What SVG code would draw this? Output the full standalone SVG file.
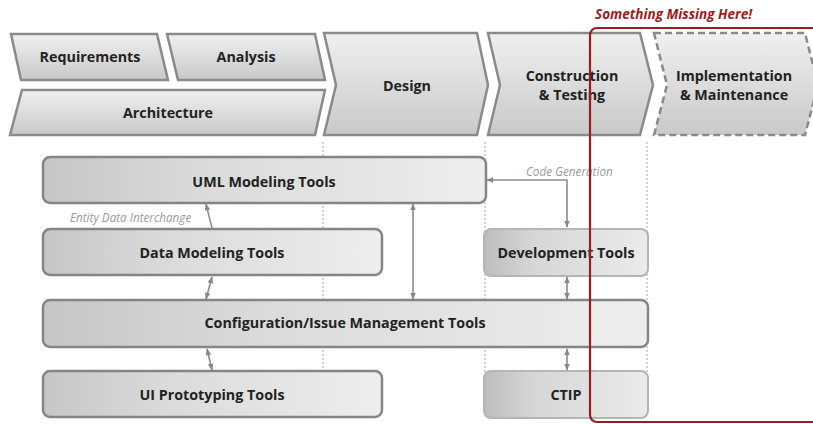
<svg xmlns="http://www.w3.org/2000/svg" width="813" height="424" viewBox="0 0 813 424">
<defs>
<linearGradient id="gv" x1="0" y1="0" x2="0" y2="1">
<stop offset="0" stop-color="#f0f0f0"/><stop offset="1" stop-color="#c9c9c9"/>
</linearGradient>
<linearGradient id="gh" x1="0" y1="0" x2="1" y2="0">
<stop offset="0" stop-color="#c6c6c6"/><stop offset="0.35" stop-color="#dadada"/><stop offset="1" stop-color="#eeeeee"/>
</linearGradient>
<linearGradient id="gh2" x1="0" y1="0" x2="1" y2="0">
<stop offset="0" stop-color="#bdbdbd"/><stop offset="0.3" stop-color="#d6d6d6"/><stop offset="1" stop-color="#ebebeb"/>
</linearGradient>
<marker id="ah" viewBox="0 0 10 10" refX="9" refY="5" markerWidth="7" markerHeight="7" orient="auto-start-reverse" markerUnits="userSpaceOnUse">
<path d="M0,1 L10,5 L0,9 Z" fill="#888"/>
</marker>
<style>
.ph{fill:url(#gv);stroke:#8a8a8a;stroke-width:2.5;stroke-linejoin:miter}
.dash{stroke-dasharray:7,4}
.nd{fill:url(#gh);stroke:#858585;stroke-width:2.5}
.nd2{fill:url(#gh2);stroke:#b5b5b5;stroke-width:2}
.t{font-family:"Open Sans","DejaVu Sans",sans-serif;font-weight:bold;font-size:14.3px;fill:#222;text-anchor:middle}
.lb{font-family:"Open Sans","DejaVu Sans",sans-serif;font-style:italic;font-size:11.7px;fill:#9a9a9a}
.cn{stroke:#8c8c8c;stroke-width:1.6;fill:none;marker-start:url(#ah);marker-end:url(#ah)}
.cn1{stroke:#8c8c8c;stroke-width:1.6;fill:none;marker-end:url(#ah)}
.dot{stroke:#c4c4c4;stroke-width:1.5;stroke-dasharray:2,2}
</style>
</defs>
<g id="guides">
<line class="dot" x1="323" y1="142" x2="323" y2="372"/>
<line class="dot" x1="485" y1="142" x2="485" y2="372"/>
<line class="dot" x1="647" y1="142" x2="647" y2="372"/>
</g>
<g id="requirements">
<polygon class="ph" points="11,34 157,34 168,80 21,80"/>
<text class="t" x="90" y="62">Requirements</text>
</g>
<g id="analysis">
<polygon class="ph" points="167,34 315,34 325,80 178,80"/>
<text class="t" x="246" y="62">Analysis</text>
</g>
<g id="architecture">
<polygon class="ph" points="22,90 325,90 315,135 10,135"/>
<text class="t" x="168" y="118">Architecture</text>
</g>
<g id="design">
<polygon class="ph" points="324,33 477,33 488,85 477,135 324,135 336,85"/>
<text class="t" x="407" y="91">Design</text>
</g>
<g id="construction">
<polygon class="ph" points="488,33 640,33 653,85 640,135 488,135 500,85"/>
<text class="t" x="572" y="81">Construction</text>
<text class="t" x="572" y="100">&amp; Testing</text>
</g>
<g id="implementation">
<polygon class="ph dash" points="654,33 805,33 818,85 805,135 654,135 667,85"/>
<text class="t" x="734" y="81">Implementation</text>
<text class="t" x="734" y="100">&amp; Maintenance</text>
</g>
<g id="connectors">
<line class="cn1" x1="212" y1="228" x2="206" y2="204"/>
<line class="cn" x1="212" y1="277" x2="206" y2="299"/>
<line class="cn" x1="207" y1="349" x2="212" y2="370"/>
<line class="cn" x1="413" y1="204" x2="413" y2="299"/>
<polyline class="cn" points="487,180 567,180 567,227"/>
<line class="cn" x1="567" y1="277" x2="567" y2="299"/>
<line class="cn" x1="567" y1="349" x2="567" y2="370"/>
<text class="lb" x="70" y="222">Entity Data Interchange</text>
<text class="lb" x="526" y="176">Code Generation</text>
</g>
<g id="uml">
<rect class="nd" x="43" y="157" width="443" height="46" rx="7"/>
<text class="t" x="264" y="187">UML Modeling Tools</text>
</g>
<g id="datamodeling">
<rect class="nd" x="43" y="229" width="339" height="46" rx="7"/>
<text class="t" x="212" y="258">Data Modeling Tools</text>
</g>
<g id="devtools">
<rect class="nd2" x="484" y="229" width="164" height="47" rx="7"/>
<text class="t" x="566" y="258">Development Tools</text>
</g>
<g id="config">
<rect class="nd" x="43" y="300" width="605" height="47" rx="7"/>
<text class="t" x="345" y="328">Configuration/Issue Management Tools</text>
</g>
<g id="uiproto">
<rect class="nd" x="43" y="371" width="339" height="46" rx="7"/>
<text class="t" x="212" y="400">UI Prototyping Tools</text>
</g>
<g id="ctip">
<rect class="nd2" x="484" y="371" width="164" height="47" rx="7"/>
<text class="t" x="566" y="400">CTIP</text>
</g>
<g id="missing">
<rect x="590" y="28" width="260" height="394" rx="7" fill="none" stroke="#9b1c20" stroke-width="2.2"/>
<text x="595" y="19" font-family="Open Sans, DejaVu Sans, sans-serif" font-weight="bold" font-style="italic" font-size="13.5" fill="#9b1c20">Something Missing Here!</text>
</g>
</svg>
